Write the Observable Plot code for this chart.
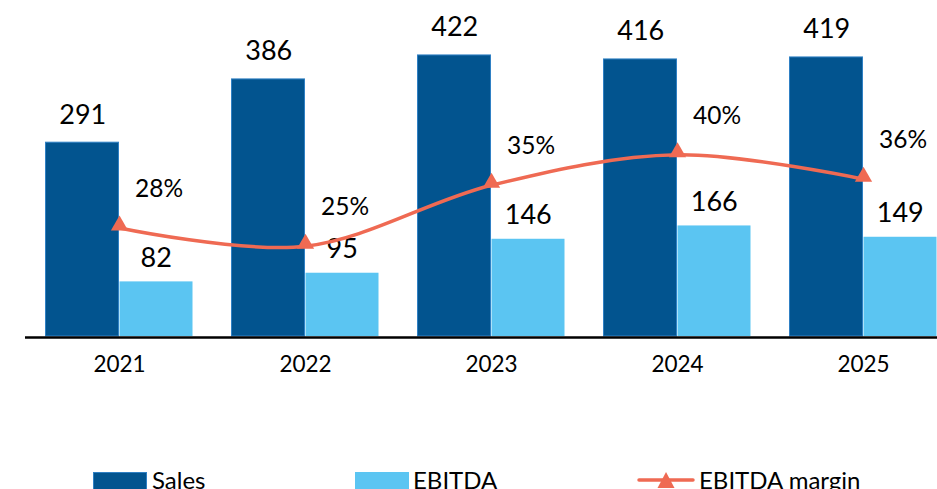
<!DOCTYPE html>
<html>
<head>
<meta charset="utf-8">
<script src="https://cdn.jsdelivr.net/npm/d3@7"></script>
<script src="https://cdn.jsdelivr.net/npm/@observablehq/plot@0.6"></script>
<style>
  html, body { margin: 0; padding: 0; background: #fff; overflow: hidden; }
  #wrap { width: 937px; height: 489px; overflow: hidden; position: relative; font-family: Lato, "Open Sans", sans-serif; }
  #legend { position: relative; width: 937px; height: 34px; font-size: 24px; color: #000; }
  #legend .t { position: absolute; top: 13px; line-height: 24px; white-space: nowrap; }
  #legend .sw { position: absolute; top: 17px; width: 54px; height: 19px; box-sizing: border-box; }
</style>
</head>
<body>
<div id="wrap">
  <div id="chart"></div>
  <div id="legend">
    <div class="sw" style="left:93px;background:#02548f;border:1px solid #2f80c4"></div>
    <div class="t" style="left:152px">Sales</div>
    <div class="sw" style="left:355px;background:#5bc5f2"></div>
    <div class="t" style="left:413px">EBITDA</div>
    <svg style="position:absolute;left:636px;top:14px" width="60" height="25">
      <line x1="3" x2="57" y1="11" y2="11" stroke="#ef6a53" stroke-width="3.5" stroke-linecap="round"></line>
      <path d="M30,3 L38.5,19 L21.5,19 Z" fill="#ef6a53"></path>
    </svg>
    <div class="t" style="left:699px">EBITDA margin</div>
  </div>
</div>
<script>
const years = ["2021", "2022", "2023", "2024", "2025"];
const sales = [291, 386, 422, 416, 419];
const ebitda = [82, 95, 146, 166, 149];
const margin = [28, 25, 35, 40, 36]; // EBITDA margin, %

const rows = years.map((year, i) => ({year, sales: sales[i], ebitda: ebitda[i], margin: margin[i]}));

// secondary axis (margin %) expressed in primary-axis units
const marginToY = d3.scaleLinear().domain([10.2, 65.3]).range([0, 504.5]);
const my = d => marginToY(d.margin);

const SALES = "#02548f", EBITDA = "#5bc5f2", LINE = "#ef6a53";

const chart = Plot.plot({
  width: 937,
  height: 455,
  marginLeft: 25,
  marginRight: 0,
  marginTop: 0,
  marginBottom: 119,
  style: {fontFamily: "Lato, 'Open Sans', sans-serif", color: "#000", background: "#fff", overflow: "hidden"},
  x: {type: "band", domain: years, range: [24.5, 957], padding: 0, label: null},
  y: {domain: [0, 504.5], axis: null},
  marks: [
    Plot.barY(rows, {x: "year", y: "sales", fill: SALES, stroke: "#2f80c4", strokeWidth: 1, insetLeft: 19.5, insetRight: 93.5}),
    Plot.barY(rows, {x: "year", y: "ebitda", fill: EBITDA, insetLeft: 93.5, insetRight: 19.5}),
    Plot.ruleY([0], {stroke: "#000", strokeWidth: 2.5, dy: 1}),
    Plot.axisX({tickSize: 0, tickPadding: 20, fontSize: 22.5, label: null}),
    Plot.text(rows, {x: "year", y: "sales", text: d => String(d.sales), dx: -36.75, dy: -19, lineAnchor: "bottom", fontSize: 27, fill: "#000"}),
    Plot.text(rows, {x: "year", y: "ebitda", text: d => String(d.ebitda), dx: 36.75, dy: -15, lineAnchor: "bottom", fontSize: 27, fill: "#000"}),
    Plot.line(rows, {x: "year", y: my, stroke: LINE, strokeWidth: 3.5, curve: "cardinal"}),
    Plot.dot(rows, {x: "year", y: my, symbol: "triangle", r: 6.4, fill: LINE, stroke: "none", dy: -2.5}),
    Plot.text(rows, {x: "year", y: my, text: d => d.margin + "%", dx: 39.5, dy: -31, lineAnchor: "bottom", fontSize: 24.5, fill: "#000"})
  ]
});
document.getElementById("chart").appendChild(chart);
</script>
</body>
</html>
